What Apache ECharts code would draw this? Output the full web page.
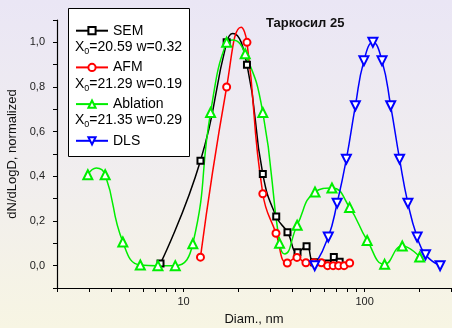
<!DOCTYPE html>
<html>
<head>
<meta charset="utf-8">
<script src="https://cdn.jsdelivr.net/npm/echarts@6/dist/echarts.min.js"></script>
<style>
html,body{margin:0;padding:0;}
#c{width:452px;height:328px;background:linear-gradient(to bottom,#EAE6F5 0%,#F1EEEE 55%,#F7F5E3 100%);}
</style>
</head>
<body>
<div id="c"></div>
<script>
// ---- data ----
// measured points (drawn with markers)
const semX = [7.46, 12.4, 17.3, 22.4, 27.4, 32.5, 37.5, 42.6, 47.8, 52.5, 62.7, 67.6, 72.8];
const semY = [0.01, 0.47, 1.0, 0.90, 0.41, 0.22, 0.15, 0.06, 0.087, 0.015, 0.01, 0.039, 0.018];
const afmX = [12.4, 17.3, 22.4, 27.4, 32.4, 37.4, 42.3, 47.4, 52.5, 57.7, 62.5, 67, 71.8, 77, 82.7];
const afmY = [0.038, 0.80, 1.0, 0.322, 0.145, 0.012, 0.037, 0.013, 0.013, 0.013, 0.0, 0.0, 0.0, 0.0, 0.012];
const ablX = [2.96, 3.69, 4.62, 5.77, 7.22, 9.0, 11.25, 14.1, 17.3, 21.9, 27.4, 33.9, 42.4, 53.2, 66, 82.6, 103.3, 129, 161.4, 201.5];
const ablY = [0.407, 0.407, 0.106, 0.003, 0.0, 0.0, 0.098, 0.686, 1.0, 0.949, 0.686, 0.10, 0.181, 0.33, 0.348, 0.261, 0.113, 0.006, 0.088, 0.039];
const dlsX = [53, 63, 70.5, 79.3, 88.9, 99.1, 111.1, 124.8, 139.3, 156, 173.4, 195, 217, 261];
const dlsY = [0.0, 0.128, 0.28, 0.477, 0.716, 0.917, 1.0, 0.917, 0.716, 0.477, 0.28, 0.128, 0.049, 0.0];

// extra points where the spline curve in the picture overshoots (line only, no marker)
const semCurveX = [18.7];
const semCurveY = [1.04];
const afmCurveX = [20.8];
const afmCurveY = [1.068];
const ablCurveX = [3.3, 18.6, 36.2];
const ablCurveY = [0.437, 1.01, 0.052];

const seriesNames = ['SEM', 'AFM', 'Ablation', 'DLS'];
const fitTexts = [['20.59', '0.32'], ['21.29', '0.19'], ['21.35', '0.29']];
const titleText = 'Таркосил 25';
const xName = 'Diam., nm';
const yName = 'dN/dLogD, normalized';
const xTickValues = [2, 3, 4, 5, 6, 7, 8, 9, 10, 20, 30, 40, 50, 60, 70, 80, 90, 100, 200, 300];
const xLabelValues = [10, 100];

function buildData(xs, ys, cx, cy) {
  const pts = xs.map((x, i) => ({value: [x, ys[i]]}));
  (cx || []).forEach((x, i) => pts.push({value: [x, cy[i]], symbol: 'none'}));
  pts.sort((a, b) => a.value[0] - b.value[0]);
  return pts;
}

const FONT = 'Arial, "Liberation Sans", sans-serif';
const chart = echarts.init(document.getElementById('c'), null, {renderer: 'canvas'});

function mkSeries(name, data, color, symbol, size, rot) {
  return {
    name: name, type: 'line', data: data,
    smooth: 0.5, symbol: symbol, symbolSize: size, symbolRotate: rot || 0,
    showAllSymbol: true,
    lineStyle: {color: color, width: 1.5},
    itemStyle: {color: color, borderWidth: 1.2},
    emphasis: {disabled: true}, animation: false
  };
}

const fitGraphics = fitTexts.map((t, i) => ({
  type: 'text', left: 75, top: 40 + i * 36.7,
  style: {
    text: '{a|X}{s|0}{a|=' + t[0] + ' w=' + t[1] + '}',
    rich: {
      a: {fontSize: 14, fontFamily: FONT, fill: '#000', lineHeight: 18, verticalAlign: 'middle'},
      s: {fontSize: 9, fontFamily: FONT, fill: '#000', lineHeight: 18, verticalAlign: 'bottom', padding: [6, 0, 0, 0]}
    }
  },
  z: 110
}));

chart.setOption({
  animation: false,
  backgroundColor: 'transparent',
  textStyle: {fontFamily: FONT},
  title: {
    text: titleText, left: 261, top: 12,
    textStyle: {fontSize: 13, fontWeight: 'bold', color: '#111', fontFamily: FONT}
  },
  grid: {left: 57, right: 1, top: 20, bottom: 40, containLabel: false, outerBoundsMode: 'none'},
  xAxis: {
    type: 'log', logBase: 10, min: 2, max: 300,
    name: xName, nameLocation: 'middle', nameGap: 25,
    nameTextStyle: {fontSize: 13, color: '#111', fontFamily: FONT},
    axisLine: {onZero: false, lineStyle: {color: '#000', width: 1.2}},
    axisTick: {show: true, inside: false, length: 4, customValues: xTickValues, lineStyle: {color: '#000'}},
    axisLabel: {customValues: xLabelValues, fontSize: 11, color: '#222', margin: 8, fontFamily: FONT},
    splitLine: {show: false}, minorTick: {show: false}
  },
  yAxis: {
    type: 'value', min: -0.1, max: 1.1, interval: 0.1,
    name: yName, nameLocation: 'middle', nameGap: 34, nameRotate: 90,
    nameTextStyle: {fontSize: 13, color: '#111', fontFamily: FONT},
    axisLine: {show: true, onZero: false, lineStyle: {color: '#000', width: 1.2}},
    axisTick: {show: true, inside: false, length: 4, lineStyle: {color: '#000'}},
    axisLabel: {
      fontSize: 11, color: '#222', margin: 12, fontFamily: FONT,
      formatter: function (v) {
        const k = Math.round(v * 10);
        if (k < 0 || k > 10 || k % 2 !== 0) return '';
        return (k / 10).toFixed(1).replace('.', ',');
      }
    },
    splitLine: {show: false}
  },
  legend: {
    orient: 'vertical', left: 70, top: 18.7,
    itemWidth: 32, itemHeight: 9, itemGap: 22.7,
    data: seriesNames,
    textStyle: {fontSize: 14, lineHeight: 14, color: '#000', fontFamily: FONT},
    selectedMode: false, z: 120
  },
  graphic: [
    {type: 'rect', left: 68, top: 8, shape: {width: 121, height: 148},
     style: {fill: '#fff', stroke: '#000', lineWidth: 1}, z: 100}
  ].concat(fitGraphics),
  series: [
    mkSeries(seriesNames[0], buildData(semX, semY, semCurveX, semCurveY), '#000000', 'emptyRect', 6),
    mkSeries(seriesNames[1], buildData(afmX, afmY, afmCurveX, afmCurveY), '#ff0000', 'emptyCircle', 7),
    mkSeries(seriesNames[2], buildData(ablX, ablY, ablCurveX, ablCurveY), '#00ee00', 'emptyTriangle', 9),
    mkSeries(seriesNames[3], buildData(dlsX, dlsY), '#0000ff', 'emptyTriangle', 9, 180)
  ]
});
</script>
</body>
</html>
